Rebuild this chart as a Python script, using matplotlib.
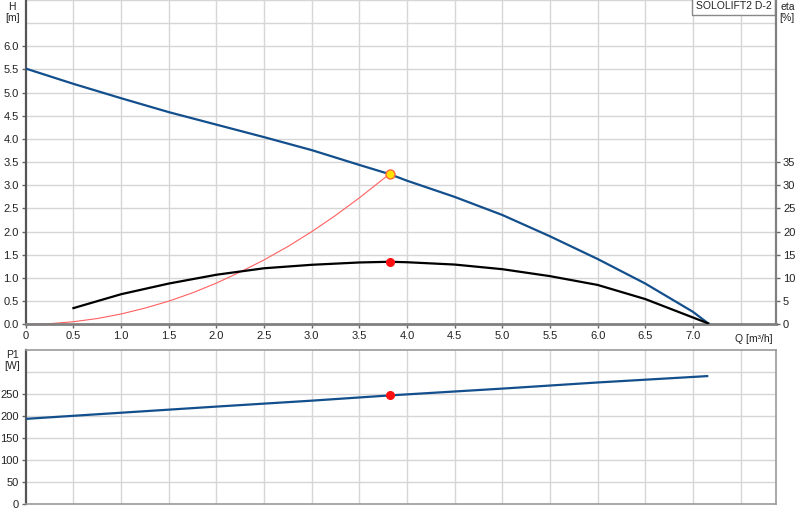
import matplotlib
matplotlib.use("Agg")
import matplotlib.pyplot as plt

plt.rcParams['font.family'] = ['Liberation Sans', 'DejaVu Sans']

# pump curve H(Q)
q_h = [0, 0.5, 1.0, 1.5, 2.0, 2.5, 3.0, 3.5, 3.82, 4.0, 4.5, 5.0, 5.5, 6.0, 6.5, 7.0, 7.16]
h = [5.52, 5.19, 4.88, 4.58, 4.31, 4.04, 3.76, 3.44, 3.24, 3.10, 2.75, 2.36, 1.90, 1.41, 0.88, 0.27, 0.02]

# system curve
q_sys = [0, 0.25, 0.5, 0.75, 1.0, 1.25, 1.5, 1.75, 2.0, 2.25, 2.5, 2.75, 3.0, 3.25, 3.5, 3.82]
h_sys = [0, 0.014, 0.056, 0.125, 0.223, 0.35, 0.50, 0.68, 0.89, 1.13, 1.39, 1.68, 2.0, 2.35, 2.73, 3.25]

# efficiency eta(Q) in %
q_eta = [0.5, 1.0, 1.5, 2.0, 2.5, 3.0, 3.5, 3.82, 4.0, 4.5, 5.0, 5.5, 6.0, 6.5, 7.16]
eta = [3.5, 6.5, 8.8, 10.7, 12.1, 12.85, 13.35, 13.5, 13.4, 12.9, 11.9, 10.4, 8.5, 5.45, 0.2]

# power input P1(Q)
q_p = [0, 1.0, 2.0, 3.0, 3.82, 5.0, 6.0, 7.15]
p1 = [193, 207, 221, 234.5, 246.5, 262, 276, 290.5]

# duty point
duty_q = 3.82
duty_h = 3.25
duty_eta = 13.5
duty_p = 246.5

h_ticks = [0, 0.5, 1.0, 1.5, 2.0, 2.5, 3.0, 3.5, 4.0, 4.5, 5.0, 5.5, 6.0]
eta_ticks = [0, 5, 10, 15, 20, 25, 30, 35]
q_ticks = [0, 0.5, 1.0, 1.5, 2.0, 2.5, 3.0, 3.5, 4.0, 4.5, 5.0, 5.5, 6.0, 6.5, 7.0]
p_ticks = [0, 50, 100, 150, 200, 250]

blue = '#134f8c'
grid_c = '#d6d6d6'
txt = '#222222'
fs = 7.5
fs_tick = 8

fig = plt.figure(figsize=(8, 5.2), dpi=100)
ax = fig.add_axes([0.03225, 0.3763, 0.9378, 0.6237])
ax2 = ax.twinx()
axp = fig.add_axes([0.03225, 0.0317, 0.9378, 0.2952])

xmax = 7.872
grid_x = [i * 0.5 for i in range(16)]

# ---- top chart
ax.set_xlim(0, xmax)
ax.set_ylim(0, 7.0)
ax2.set_ylim(0, 70)
for gx in grid_x[1:]:
    ax.axvline(gx, color=grid_c, lw=1, zorder=0)
for gy in [i * 0.5 for i in range(1, 15)]:
    ax.axhline(gy, color=grid_c, lw=1, zorder=0)

ax.plot(q_h, h, color=blue, lw=1.6, zorder=3)
ax.plot(q_sys, h_sys, color='#ff6060', lw=0.8, zorder=2)
ax2.plot(q_eta, eta, color='black', lw=1.6, zorder=3)
ax.plot([duty_q], [duty_h], 'o', ms=6.5, mfc='#ffe000', mec='#ff6a3a', mew=1, zorder=5)
ax2.plot([duty_q], [duty_eta], 'o', ms=5.5, color='#ff1010', zorder=5)

ax.set_xticks(q_ticks)
ax.set_xticklabels(['0' if v == 0 else '%.1f' % v for v in q_ticks])
ax.set_yticks(h_ticks)
ax.set_yticklabels(['%.1f' % v for v in h_ticks])
ax2.set_yticks(eta_ticks)
ax2.set_yticklabels([str(v) for v in eta_ticks])
for a in (ax, ax2):
    a.tick_params(labelsize=fs_tick, labelcolor=txt, length=3, width=1, color='#666666', pad=2)
    for s in a.spines.values():
        s.set_visible(False)
ax.spines['left'].set_visible(True)
ax.spines['left'].set_color('#555555')
ax.spines['left'].set_linewidth(1.6)
ax.spines['bottom'].set_visible(True)
ax.spines['bottom'].set_color('#808080')
ax.spines['bottom'].set_linewidth(2)
ax2.spines['right'].set_visible(True)
ax2.spines['right'].set_color('#808080')
ax2.spines['right'].set_linewidth(1.6)

ax.text(-0.018, 0.995, 'H', transform=ax.transAxes, ha='center', va='top', fontsize=fs, color=txt)
ax.text(-0.018, 0.96, '[m]', transform=ax.transAxes, ha='center', va='top', fontsize=fs, color=txt)
ax.text(1.015, 0.995, 'eta', transform=ax.transAxes, ha='center', va='top', fontsize=fs, color=txt)
ax.text(1.015, 0.96, '[%]', transform=ax.transAxes, ha='center', va='top', fontsize=fs, color=txt)
ax.text(7.44, -0.2, 'Q [m\u00b3/h]', ha='left', va='top', fontsize=fs, color=txt)
ax.text(0.994, 0.996, 'SOLOLIFT2 D-2', transform=ax.transAxes, ha='right', va='top',
        fontsize=fs, color=txt, zorder=6,
        bbox=dict(boxstyle='square,pad=0.35', fc='white', ec='#888888', lw=1))

# ---- bottom chart
axp.set_xlim(0, xmax)
axp.set_ylim(0, 350)
for gx in grid_x[1:]:
    axp.axvline(gx, color=grid_c, lw=1, zorder=0)
for gy in [50, 100, 150, 200, 250, 300]:
    axp.axhline(gy, color=grid_c, lw=1, zorder=0)
axp.plot(q_p, p1, color=blue, lw=1.6, zorder=3)
axp.plot([duty_q], [duty_p], 'o', ms=5.5, color='#ff1010', zorder=5)
axp.set_xticks([])
axp.set_yticks(p_ticks)
axp.set_yticklabels([str(v) for v in p_ticks])
axp.tick_params(labelsize=fs_tick, labelcolor=txt, length=3, width=1, color='#666666', pad=2)
for s in axp.spines.values():
    s.set_color('#9a9a9a')
    s.set_linewidth(1.2)
axp.spines['left'].set_color('#555555')
axp.spines['left'].set_linewidth(1.6)
axp.text(-0.018, 1.0, 'P1', transform=axp.transAxes, ha='center', va='top', fontsize=fs, color=txt)
axp.text(-0.018, 0.93, '[W]', transform=axp.transAxes, ha='center', va='top', fontsize=fs, color=txt)

fig.savefig('out.png', dpi=100)
